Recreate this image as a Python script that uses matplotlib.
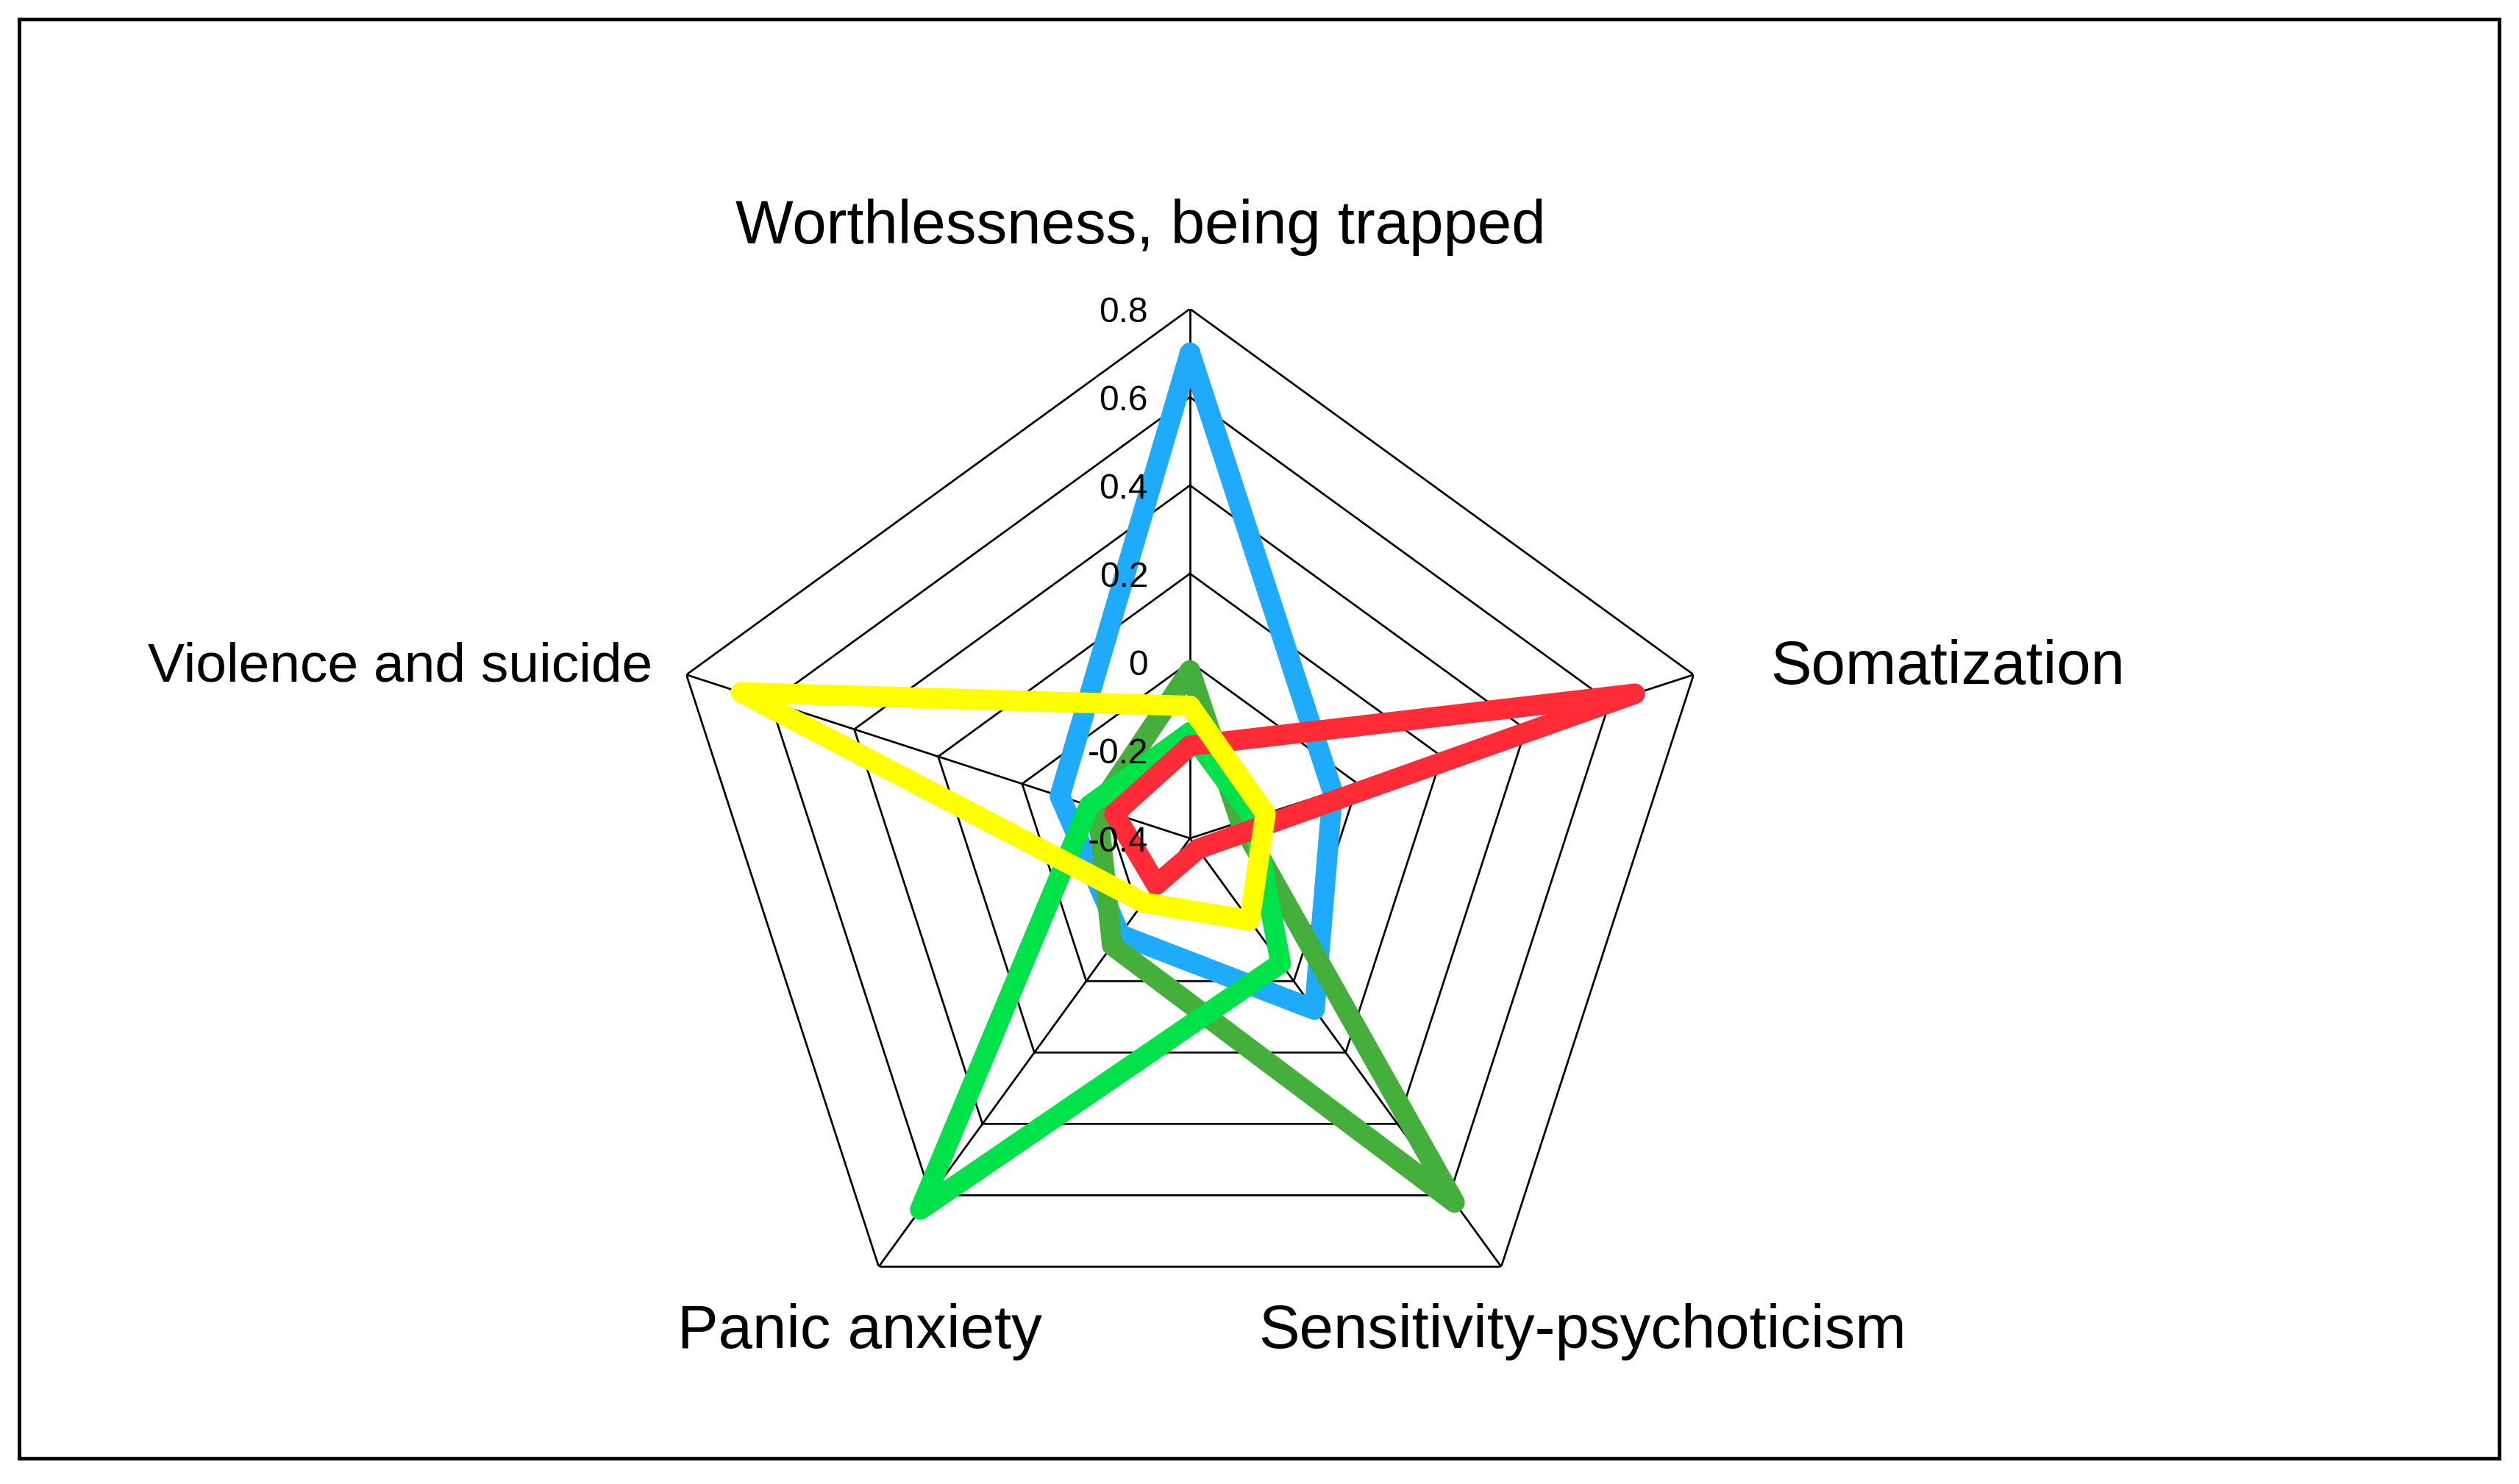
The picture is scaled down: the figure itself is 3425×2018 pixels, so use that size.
import numpy as np
import matplotlib
matplotlib.use("Agg")
import matplotlib.pyplot as plt
from matplotlib.patches import Rectangle

plt.rcParams['font.family'] = ['Liberation Sans', 'DejaVu Sans']

# axes of the radar, clockwise from top
categories = ["Worthlessness, being trapped", "Somatization",
              "Sensitivity-psychoticism", "Panic anxiety", "Violence and suicide"]
r_ticks = [-0.4, -0.2, 0, 0.2, 0.4, 0.6, 0.8]
r_tick_labels = ["-0.4", "-0.2", "0", "0.2", "0.4", "0.6", "0.8"]

# values, one list per profile
blue = [0.70, -0.06, 0.08, -0.13, -0.09]
dark_green = [-0.02, -0.28, 0.62, -0.10, -0.18]
bright_green = [-0.16, -0.25, -0.05, 0.64, -0.16]
red = [-0.19, 0.66, -0.37, -0.27, -0.22]
yellow = [-0.10, -0.22, -0.17, -0.22, 0.67]

series = [
    (blue, "#1eabfb"),
    (dark_green, "#45af3c"),
    (bright_green, "#00e24a"),
    (red, "#ff2b36"),
    (yellow, "#ffff00"),
]

W, H, DPI = 3425, 2018, 300
fig = plt.figure(figsize=(W / DPI, H / DPI), dpi=DPI)

# radar centre and outer radius in pixels
cx, cy, R = 1618, 1140, 720
ax = fig.add_axes([(cx - R) / W, (H - cy - R) / H, 2 * R / W, 2 * R / H],
                  projection='polar')
ax.set_theta_offset(np.pi / 2)
ax.set_theta_direction(-1)
ax.set_ylim(r_ticks[0], r_ticks[-1])
ax.axis('off')

n = len(categories)
theta = np.linspace(0, 2 * np.pi, n, endpoint=False)
theta_c = np.append(theta, theta[0])

# pentagon grid and spokes
for t in r_ticks[1:]:
    ax.plot(theta_c, [t] * (n + 1), color='black', lw=0.65, zorder=1)
for th in theta:
    ax.plot([th, th], [r_ticks[0], r_ticks[-1]], color='black', lw=0.65, zorder=1)

# profiles
for i, (vals, col) in enumerate(series):
    ax.plot(theta_c, vals + vals[:1], color=col, lw=6.7,
            solid_joinstyle='round', solid_capstyle='round', zorder=3 + i)

# radial tick labels on the top spoke, drawn above the profiles
for t, lab in zip(r_ticks, r_tick_labels):
    ax.annotate(lab, xy=(0, t), xytext=(-57, 0), textcoords='offset pixels',
                ha='right', va='center_baseline', fontsize=11.5, zorder=20)

# category labels
offsets = [(-67, 120, 'center', 20), (104, 18, 'left', 20), (110, -80, 'center', 20),
           (-26, -80, 'center', 20), (-46, 18, 'right', 18)]
for th, lab, (dx, dy, ha, fs) in zip(theta, categories, offsets):
    ax.annotate(lab, xy=(th, r_ticks[-1]), xytext=(dx, dy),
                textcoords='offset pixels', ha=ha, va='center_baseline',
                fontsize=fs, annotation_clip=False)

# outer frame
fig.patches.append(Rectangle((26 / W, 35 / H), (3398 - 26) / W, (1983 - 26) / H,
                             transform=fig.transFigure, fill=False,
                             edgecolor='black', lw=1.2))

fig.savefig("out.png", dpi=DPI)
